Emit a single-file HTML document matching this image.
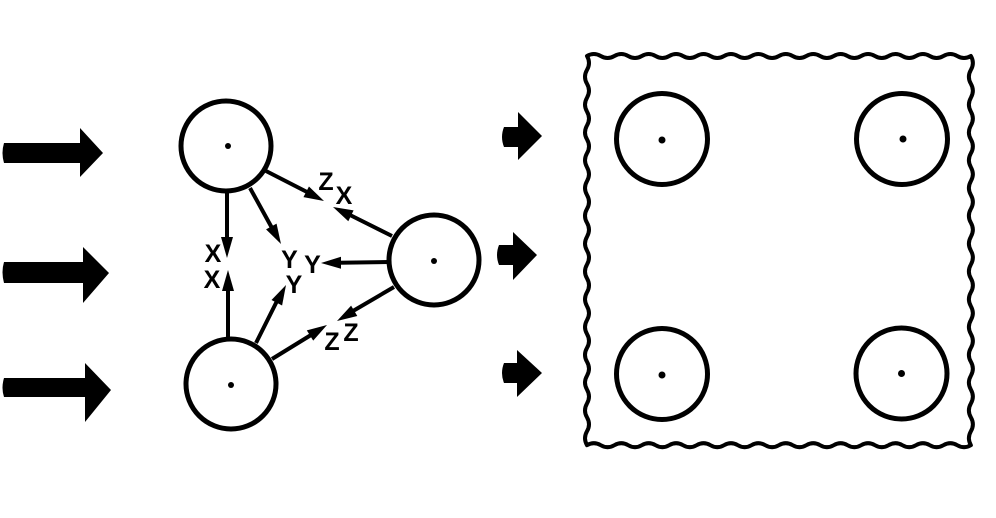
<!DOCTYPE html>
<html>
<head>
<meta charset="utf-8">
<style>
html,body{margin:0;padding:0;background:#fff;}
body{width:996px;height:518px;overflow:hidden;}
svg{display:block;}
text{font-family:"Liberation Sans",sans-serif;font-weight:bold;font-size:25px;fill:#000;text-anchor:middle;}
</style>
</head>
<body>
<svg width="996" height="518" viewBox="0 0 996 518" xmlns="http://www.w3.org/2000/svg">
  <!-- big left arrows -->
  <g fill="#000">
    <path d="M4,143 L80,143 L80,128 L103,153 L80,177 L80,163 L4,163 Q1,153 4,143 Z"/>
    <path d="M4,262 L83,262 L83,247 L109,273 L83,303 L83,283 L4,283 Q1,272 4,262 Z"/>
    <path d="M4,378 L85,378 L85,363 L111,390 L85,422 L85,397 L4,397 Q1,388 4,378 Z"/>
  </g>
  <!-- small arrows -->
  <g fill="#000">
    <path d="M504,127 L518,127 L518,112 L542,136 L518,160 L518,147 L504,147 Q500,137 504,127 Z"/>
    <path d="M499,245 L513,245 L513,232 L537,255 L513,280 L513,265 L499,265 Q495,255 499,245 Z"/>
    <path d="M504,363 L517,363 L517,350 L542,373 L517,397 L517,383 L504,383 Q500,373 504,363 Z"/>
  </g>

  <!-- triad arrows -->
  <g stroke="#000" stroke-width="4" fill="none" stroke-linecap="butt">
    <line x1="227" y1="192" x2="227" y2="240"/>
    <line x1="228" y1="339" x2="228" y2="288"/>
    <line x1="250" y1="188" x2="272" y2="228"/>
    <line x1="266" y1="171" x2="307" y2="192"/>
    <line x1="392" y1="236" x2="350" y2="215"/>
    <line x1="389" y1="262" x2="339" y2="262.7"/>
    <line x1="394" y1="287" x2="353" y2="311"/>
    <line x1="256" y1="343" x2="277" y2="301"/>
    <line x1="272" y1="359" x2="311" y2="335"/>
  </g>
  <g fill="#000">
    <polygon points="227,258 221,237 233,237"/>
    <polygon points="228,270 222,291 234,291"/>
    <polygon points="281,244 266.05,229.4 276.55,223.6"/>
    <polygon points="324,201 303.45,197.13 308.95,186.47"/>
    <polygon points="333,207 353.6,210.4 348.3,221.2"/>
    <polygon points="321,263 341,256.7 341,268.7"/>
    <polygon points="337,321 351.1,305.6 357.3,316"/>
    <polygon points="286,285 282.1,305.5 271.5,300"/>
    <polygon points="327,325 313.2,340.6 306.8,330.4"/>
  </g>

  <!-- triad circles -->
  <g stroke="#000" stroke-width="5" fill="none">
    <circle cx="226" cy="146" r="45"/>
    <circle cx="434" cy="260" r="45"/>
    <circle cx="231" cy="384" r="45"/>
  </g>
  <g fill="#000">
    <circle cx="228" cy="146" r="3"/>
    <circle cx="434" cy="261" r="3"/>
    <circle cx="231" cy="385" r="3"/>
  </g>

  <!-- labels -->
  <text x="326" y="190">Z</text>
  <text x="344" y="204">X</text>
  <text x="213" y="262">X</text>
  <text x="212" y="288">X</text>
  <text x="289.5" y="268">Y</text>
  <text x="312.5" y="273">Y</text>
  <text x="294" y="293">Y</text>
  <text x="351" y="341">Z</text>
  <text x="332" y="350">Z</text>

  <!-- wavy box -->
  <path stroke="#000" stroke-width="4" fill="none" stroke-linejoin="round"
    d="M587,56
       q6.86,-4 13.71,0 t13.71,0 t13.71,0 t13.71,0 t13.71,0 t13.71,0 t13.71,0 t13.71,0 t13.71,0 t13.71,0
       t13.71,0 t13.71,0 t13.71,0 t13.71,0 t13.71,0 t13.71,0 t13.71,0 t13.71,0 t13.71,0 t13.71,0
       t13.71,0 t13.71,0 t13.71,0 t13.71,0 t13.71,0 t13.71,0 t13.71,0 t13.71,0
       q4,6.95 0,13.9 t0,13.9 t0,13.9 t0,13.9 t0,13.9 t0,13.9 t0,13.9 t0,13.9 t0,13.9 t0,13.9
       t0,13.9 t0,13.9 t0,13.9 t0,13.9 t0,13.9 t0,13.9 t0,13.9 t0,13.9 t0,13.9 t0,13.9
       t0,13.9 t0,13.9 t0,13.9 t0,13.9 t0,13.9 t0,13.9 t0,13.9 t0,13.9
       q-6.86,4 -13.71,0 t-13.71,0 t-13.71,0 t-13.71,0 t-13.71,0 t-13.71,0 t-13.71,0 t-13.71,0 t-13.71,0 t-13.71,0
       t-13.71,0 t-13.71,0 t-13.71,0 t-13.71,0 t-13.71,0 t-13.71,0 t-13.71,0 t-13.71,0 t-13.71,0 t-13.71,0
       t-13.71,0 t-13.71,0 t-13.71,0 t-13.71,0 t-13.71,0 t-13.71,0 t-13.71,0 t-13.71,0
       q-4,-6.95 0,-13.9 t0,-13.9 t0,-13.9 t0,-13.9 t0,-13.9 t0,-13.9 t0,-13.9 t0,-13.9 t0,-13.9 t0,-13.9
       t0,-13.9 t0,-13.9 t0,-13.9 t0,-13.9 t0,-13.9 t0,-13.9 t0,-13.9 t0,-13.9 t0,-13.9 t0,-13.9
       t0,-13.9 t0,-13.9 t0,-13.9 t0,-13.9 t0,-13.9 t0,-13.9 t0,-13.9 t0,-13.9 Z"/>

  <!-- box circles -->
  <g stroke="#000" stroke-width="5" fill="none">
    <circle cx="662" cy="139" r="45.5"/>
    <circle cx="902" cy="139" r="45.5"/>
    <circle cx="662" cy="374" r="45.5"/>
    <circle cx="901.5" cy="373.5" r="45.5"/>
  </g>
  <g fill="#000">
    <circle cx="662" cy="140" r="3.5"/>
    <circle cx="903" cy="139" r="3.5"/>
    <circle cx="662" cy="375" r="3.5"/>
    <circle cx="901.5" cy="373.5" r="3.5"/>
  </g>
</svg>
</body>
</html>
